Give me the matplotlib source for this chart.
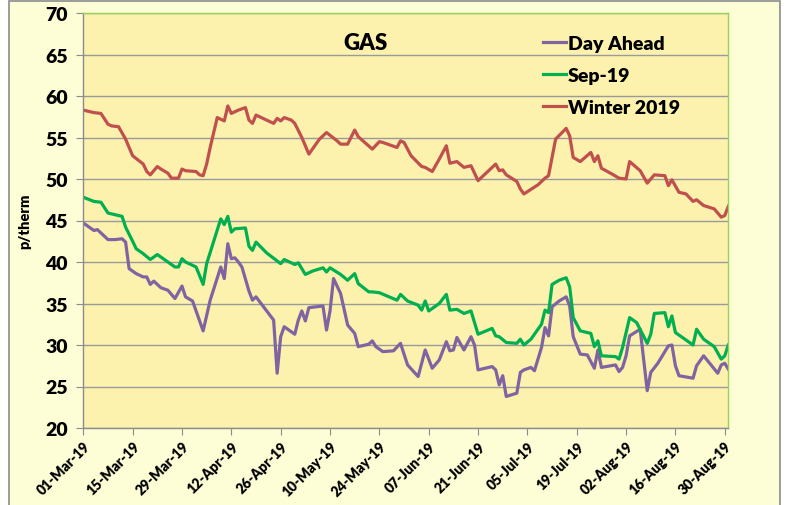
import numpy as np
import pandas as pd
import matplotlib
matplotlib.use('Agg')
import matplotlib.pyplot as plt
import matplotlib.dates as mdates
from matplotlib.patches import Rectangle

plt.rcParams['font.family'] = ['Lato', 'DejaVu Sans']
plt.rcParams['font.weight'] = 'bold'

# Winter 2019 (month-day, p/therm)
winter_dates = ['03-01', '03-04', '03-06', '03-08', '03-09', '03-11', '03-13', '03-15', '03-18', '03-19',
                '03-20', '03-22', '03-23', '03-25', '03-26', '03-28', '03-29', '03-30', '04-02', '04-03',
                '04-04', '04-05', '04-06', '04-08', '04-10', '04-11', '04-12', '04-14', '04-16', '04-17',
                '04-18', '04-19', '04-24', '04-25', '04-26', '04-27', '04-29', '04-30', '05-02', '05-04',
                '05-07', '05-09', '05-12', '05-13', '05-15', '05-17', '05-18', '05-22', '05-24', '05-25',
                '05-29', '05-30', '05-31', '06-02', '06-05', '06-06', '06-08', '06-10', '06-12', '06-13',
                '06-15', '06-17', '06-19', '06-21', '06-26', '06-27', '06-28', '06-29', '07-02', '07-03',
                '07-04', '07-08', '07-10', '07-11', '07-13', '07-16', '07-17', '07-18', '07-20', '07-23',
                '07-24', '07-25', '07-26', '07-29', '07-31', '08-02', '08-03', '08-06', '08-08', '08-10',
                '08-13', '08-14', '08-15', '08-17', '08-19', '08-21', '08-22', '08-24', '08-27', '08-29',
                '08-30', '08-31']
winter_vals = [58.3, 58.0, 57.9, 56.6, 56.4, 56.3, 54.8, 52.8, 51.8, 50.9,
               50.5, 51.5, 51.2, 50.7, 50.1, 50.1, 51.2, 51.0, 50.9, 50.5,
               50.4, 51.8, 53.8, 57.4, 57.0, 58.8, 57.9, 58.3, 58.6, 57.1,
               56.7, 57.7, 56.7, 57.3, 57.0, 57.4, 57.1, 56.7, 55.0, 53.0,
               54.8, 55.6, 54.6, 54.2, 54.2, 55.9, 55.1, 53.6, 54.5, 54.4,
               53.8, 54.6, 54.4, 52.8, 51.5, 51.4, 50.9, 52.4, 54.0, 51.9,
               52.1, 51.4, 51.6, 49.8, 51.8, 51.0, 51.1, 50.5, 49.7, 48.8,
               48.2, 49.3, 50.1, 50.4, 54.8, 56.1, 55.2, 52.6, 52.1, 53.2,
               52.1, 52.8, 51.3, 50.6, 50.1, 50.0, 52.1, 51.0, 49.5, 50.5,
               50.4, 49.2, 49.9, 48.4, 48.2, 47.3, 47.5, 46.8, 46.4, 45.4,
               45.6, 46.7]

# Sep-19
sep_dates = ['03-01', '03-04', '03-06', '03-08', '03-10', '03-12', '03-13', '03-15', '03-16', '03-18',
             '03-20', '03-22', '03-24', '03-27', '03-28', '03-29', '03-30', '04-02', '04-04', '04-05',
             '04-09', '04-10', '04-11', '04-12', '04-13', '04-16', '04-17', '04-18', '04-19', '04-22',
             '04-26', '04-27', '04-30', '05-01', '05-03', '05-05', '05-08', '05-09', '05-10', '05-13',
             '05-15', '05-17', '05-18', '05-21', '05-22', '05-24', '05-29', '05-30', '06-01', '06-04',
             '06-05', '06-06', '06-07', '06-10', '06-12', '06-13', '06-15', '06-17', '06-19', '06-21',
             '06-25', '06-26', '06-27', '06-29', '07-02', '07-03', '07-04', '07-06', '07-09', '07-10',
             '07-11', '07-12', '07-14', '07-16', '07-17', '07-18', '07-20', '07-23', '07-24', '07-25',
             '07-26', '07-30', '07-31', '08-01', '08-03', '08-05', '08-08', '08-09', '08-10', '08-13',
             '08-14', '08-15', '08-16', '08-21', '08-22', '08-24', '08-27', '08-29', '08-30', '08-31']
sep_vals = [47.8, 47.3, 47.2, 45.9, 45.7, 45.5, 44.2, 42.5, 41.6, 41.0,
            40.3, 40.9, 40.3, 39.4, 39.4, 40.4, 40.0, 39.4, 37.3, 39.8,
            45.2, 44.5, 45.5, 43.6, 44.0, 44.1, 41.9, 41.4, 42.4, 41.1,
            39.8, 40.3, 39.7, 39.9, 38.5, 38.9, 39.3, 38.8, 39.3, 38.5,
            37.8, 38.6, 37.4, 36.4, 36.4, 36.3, 35.4, 36.1, 35.3, 34.8,
            34.2, 35.3, 34.1, 35.0, 36.1, 34.2, 34.3, 33.8, 34.1, 31.3,
            32.0, 31.1, 31.0, 30.3, 30.2, 30.7, 30.0, 30.7, 32.5, 34.2,
            33.9, 37.3, 37.8, 38.1, 37.0, 33.3, 31.7, 31.4, 29.8, 30.5,
            28.7, 28.6, 28.3, 29.7, 33.3, 32.7, 30.2, 31.3, 33.8, 33.9,
            32.2, 33.5, 31.5, 30.0, 31.9, 30.7, 29.8, 28.3, 28.7, 30.0]

# Day Ahead
da_dates = ['03-01', '03-04', '03-05', '03-06', '03-08', '03-10', '03-12', '03-13', '03-14', '03-16',
            '03-18', '03-19', '03-20', '03-21', '03-23', '03-25', '03-27', '03-29', '03-30', '04-01',
            '04-02', '04-04', '04-06', '04-09', '04-10', '04-11', '04-12', '04-13', '04-14', '04-15',
            '04-17', '04-18', '04-19', '04-24', '04-25', '04-26', '04-27', '04-30', '05-01', '05-02',
            '05-03', '05-04', '05-08', '05-09', '05-10', '05-11', '05-13', '05-15', '05-17', '05-18',
            '05-21', '05-22', '05-23', '05-25', '05-28', '05-30', '06-01', '06-04', '06-06', '06-08',
            '06-10', '06-12', '06-13', '06-14', '06-15', '06-17', '06-19', '06-20', '06-21', '06-25',
            '06-26', '06-27', '06-28', '06-29', '07-02', '07-03', '07-04', '07-06', '07-07', '07-09',
            '07-10', '07-11', '07-12', '07-14', '07-16', '07-17', '07-18', '07-20', '07-22', '07-24',
            '07-25', '07-26', '07-30', '07-31', '08-01', '08-02', '08-03', '08-06', '08-08', '08-09',
            '08-11', '08-14', '08-15', '08-16', '08-17', '08-21', '08-22', '08-24', '08-28', '08-29',
            '08-30', '08-31']
da_vals = [44.7, 43.8, 43.9, 43.5, 42.7, 42.7, 42.8, 42.4, 39.2, 38.6,
           38.2, 38.2, 37.3, 37.7, 36.9, 36.6, 35.6, 37.1, 35.8, 35.3,
           34.1, 31.7, 35.4, 39.4, 38.0, 42.2, 40.4, 40.5, 40.0, 39.4,
           36.5, 35.4, 35.8, 33.0, 26.6, 31.0, 32.2, 31.3, 33.0, 34.1,
           32.9, 34.5, 34.7, 31.8, 34.1, 38.0, 36.2, 32.4, 31.4, 29.8,
           30.1, 30.5, 29.8, 29.2, 29.3, 30.2, 27.6, 26.2, 29.4, 27.2,
           28.2, 30.4, 29.3, 29.4, 30.9, 29.4, 31.0, 30.0, 27.0, 27.4,
           27.0, 25.2, 26.3, 23.8, 24.2, 26.7, 27.0, 27.3, 26.9, 29.7,
           32.1, 31.1, 34.6, 35.3, 35.8, 34.7, 31.0, 28.9, 28.8, 27.2,
           29.4, 27.3, 27.6, 26.8, 27.3, 28.7, 31.1, 31.9, 24.5, 26.7,
           27.8, 29.9, 30.0, 27.5, 26.3, 26.0, 27.5, 28.7, 26.6, 27.6,
           27.8, 27.1]

tick_dates = ['2019-03-01', '2019-03-15', '2019-03-29', '2019-04-12', '2019-04-26', '2019-05-10',
              '2019-05-24', '2019-06-07', '2019-06-21', '2019-07-05', '2019-07-19', '2019-08-02',
              '2019-08-16', '2019-08-30']


def to_dates(md):
    return pd.to_datetime(['2019-' + d for d in md])


fig = plt.figure(figsize=(7.86, 5.06), dpi=100, facecolor='white')
# outer chart area
fig.patches.append(Rectangle((9 / 786, -0.01), 771 / 786, 1.01 - 2 / 506, transform=fig.transFigure,
                             facecolor='#FDFDD6', edgecolor='#8C8C8C', linewidth=1.2, zorder=-10))

ax = fig.add_axes([83.3 / 786, 1 - 429 / 506, 645 / 786, 415 / 506])
ax.set_zorder(5)
ax.set_facecolor('#FCF2AE')

ax.plot(to_dates(da_dates), da_vals, color='#8064A2', lw=2.3, label='Day Ahead')
ax.plot(to_dates(sep_dates), sep_vals, color='#00B050', lw=2.3, label='Sep-19')
ax.plot(to_dates(winter_dates), winter_vals, color='#C0504D', lw=2.3, label='Winter 2019')

ax.set_ylim(20, 70)
ax.set_yticks(np.arange(20, 71, 5))
ax.set_xlim(pd.Timestamp('2019-03-01'), pd.Timestamp('2019-08-31'))
ax.set_xticks(pd.to_datetime(tick_dates))
ax.xaxis.set_major_formatter(mdates.DateFormatter('%d-%b-%y'))
ax.grid(axis='y', color='#9A9A9A', lw=1.0)
ax.set_axisbelow(True)

for s in ['top', 'right']:
    ax.spines[s].set_color('#9BD35A')
    ax.spines[s].set_linewidth(1.0)
for s in ['left', 'bottom']:
    ax.spines[s].set_color('#8C8C8C')
    ax.spines[s].set_linewidth(1.0)

ax.tick_params(axis='y', length=5, color='#8C8C8C', labelsize=14, pad=6)
ax.tick_params(axis='x', length=5, color='#8C8C8C', labelsize=10, pad=3)
for lab in ax.get_yticklabels():
    lab.set_fontweight('heavy')
for lab in ax.get_xticklabels():
    lab.set_rotation(45)
    lab.set_ha('right')
    lab.set_rotation_mode('anchor')
    lab.set_fontweight('heavy')

ax.set_ylabel('p/therm', fontsize=10.5, fontweight='heavy', labelpad=10)

ax.text(0.437, 0.928, 'GAS', transform=ax.transAxes, ha='center', va='center',
        fontsize=16, fontweight='heavy')

ax.legend(loc='upper left', bbox_to_anchor=(0.713, 0.947), frameon=False,
          prop={'size': 14, 'weight': 'heavy'}, handlelength=1.15, handletextpad=0.12,
          labelspacing=0.76, borderpad=0, borderaxespad=0)

fig.savefig('out.png', dpi=100, facecolor='white')
